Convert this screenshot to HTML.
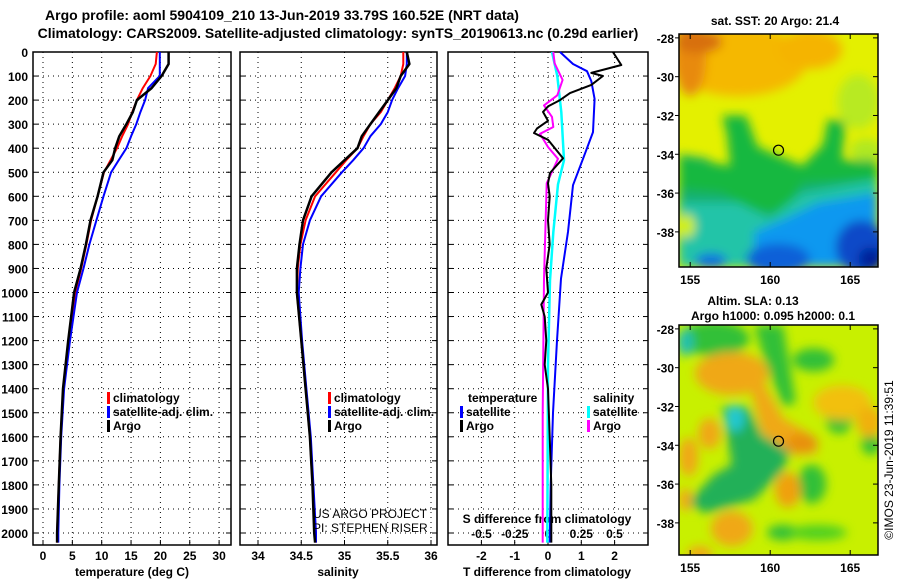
<!DOCTYPE html>
<html><head><meta charset="utf-8"><style>
html,body{margin:0;padding:0;background:#fff;}
svg{display:block;font-family:"Liberation Sans",sans-serif;}
.b{font-weight:bold;font-size:12px;}
.t{font-weight:bold;font-size:14px;}
</style></head><body>
<svg id="s" width="900" height="580" viewBox="0 0 900 580">
<defs>
<filter id="bl" x="-10%" y="-10%" width="120%" height="120%"><feGaussianBlur stdDeviation="5"/></filter>
<clipPath id="c1"><rect x="679" y="34" width="199" height="233"/></clipPath>
<clipPath id="c2"><rect x="679" y="325" width="199" height="230"/></clipPath>
</defs>
<text class="t" x="282" y="20" text-anchor="middle">Argo profile: aoml 5904109_210 13-Jun-2019 33.79S 160.52E (NRT data)</text>
<text class="t" x="338" y="38" text-anchor="middle">Climatology: CARS2009. Satellite-adjusted climatology: synTS_20190613.nc (0.29d earlier)</text>
<g id="g"></g>
</svg>
<script>
// ---- data ----
const depths=[0,50,100,150,200,250,300,350,400,450,500,600,700,800,900,1000,1200,1400,1600,1800,2000,2040];
const argoT=[21.4,21.4,20.2,18.5,16.0,15.3,14.2,13.0,12.3,11.8,10.3,9.3,8.1,7.3,6.4,5.3,4.3,3.4,3.0,2.7,2.4,2.4];
const climT=[19.4,19.2,18.3,17.0,16.0,15.2,14.5,13.5,12.6,11.5,10.4,9.3,8.2,7.4,6.5,5.5,4.4,3.5,3.0,2.7,2.4,2.4];
const satT=[19.9,19.9,19.9,17.9,17.4,16.6,15.9,15.0,14.2,12.9,11.6,10.3,9.1,7.9,6.9,5.8,4.6,3.6,3.1,2.8,2.6,2.6];
const argoS=[35.72,35.75,35.65,35.6,35.5,35.4,35.3,35.2,35.15,35.0,34.85,34.62,34.52,34.48,34.45,34.45,34.5,34.55,34.6,34.63,34.65,34.66];
const climS=[35.68,35.68,35.65,35.58,35.5,35.42,35.3,35.22,35.15,35.02,34.9,34.66,34.55,34.49,34.46,34.45,34.5,34.55,34.6,34.63,34.67,34.67];
const satS=[35.72,35.72,35.7,35.62,35.55,35.5,35.42,35.3,35.22,35.1,34.97,34.73,34.6,34.52,34.49,34.47,34.51,34.56,34.61,34.64,34.67,34.67];
const argoTdDepth=[0,54,87,100,137,171,200,226,249,286,318,337,365,442,503,546,600,700,800,900,1000,1050,1100,1200,1300,1400,1600,1800,2000,2040];
const argoTd=[1.95,2.2,1.3,1.65,1.3,0.66,0.36,0,-0.15,0,-0.33,-0.42,0,0.45,0.06,0,0.05,0,0.05,-0.05,0,-0.2,-0.1,-0.05,-0.1,0,0.05,0.1,0.1,0.1];
const satTdDepth=[0,50,80,121,195,333,444,554,748,942,1200,1500,1800,2040];
const satTd=[0.36,0.75,1.17,1.3,1.4,1.35,1.05,0.75,0.6,0.39,0.27,0.15,0.08,0.05];
const argoSdDepth=[0,47,116,180,222,270,312,340,395,444,546,942,1500,2040];
const argoSd=[0.04,0.05,0.11,0.07,-0.03,0.03,0.04,-0.06,0,0.075,-0.01,-0.03,-0.04,-0.04];
const satSdDepth=[0,100,250,450,550,750,950,1300,2040];
const satSd=[0.03,0.07,0.1,0.12,0.075,0.04,0.015,0.0,-0.005];
const depthTicks=[0,100,200,300,400,500,600,700,800,900,1000,1100,1200,1300,1400,1500,1600,1700,1800,1900,2000];
const tTicks=[0,5,10,15,20,25,30];
const sTicks=[34,34.5,35,35.5,36];
const sTickLabels=["34","34.5","35","35.5","36"];
const tdTicks=[-2,-1,0,1,2];
const sdTicks=[-0.5,-0.25,0,0.25,0.5];
const sdTickLabels=["-0.5","-0.25","0","0.25","0.5"];
const lonTicks=[155,160,165];
const latTicks=[-28,-30,-32,-34,-36,-38];
const floatLon=160.52, floatLat=-33.79;

// ---- helpers ----
const NS="http://www.w3.org/2000/svg";
const G=document.getElementById('g');
function mk(tag,attrs,parent){const e=document.createElementNS(NS,tag);for(const k in attrs)e.setAttribute(k,attrs[k]);(parent||G).appendChild(e);return e;}
function txt(x,y,s,cls,anchor,name){const e=mk('text',{x:x,y:y,'text-anchor':anchor||'middle'});if(cls)e.setAttribute('class',cls);e.textContent=s;


return e;}
const yD=d=>52+d*0.2405;
const P1={l:33,r:231}, P2={l:240,r:437}, P3={l:448,r:648};
const xT=v=>43+v*5.87;
const xS=v=>258+(v-34)*86.5;
const xTd=v=>548+v*33.3;
const xSd=v=>548+v*133;
const TOP=52,BOT=545;

function panel(P,name){
  const r=mk('rect',{x:P.l,y:TOP,width:P.r-P.l,height:BOT-TOP,fill:'none',stroke:'#000','stroke-width':1.5});
  
  
  depthTicks.forEach(d=>{mk('line',{x1:P.l,x2:P.r,y1:yD(d),y2:yD(d),stroke:'#000','stroke-width':1,'stroke-dasharray':'1,4'});
    mk('line',{x1:P.l,x2:P.l+5,y1:yD(d),y2:yD(d),stroke:'#000'});mk('line',{x1:P.r-5,x2:P.r,y1:yD(d),y2:yD(d),stroke:'#000'});});
}
function vgrid(ticks,fx){ticks.forEach(v=>{const x=fx(v);mk('line',{x1:x,x2:x,y1:TOP,y2:BOT,stroke:'#000','stroke-dasharray':'1,4'});mk('line',{x1:x,x2:x,y1:BOT-5,y2:BOT,stroke:'#000'});});}
function line(ds,vs,fx,color,w,name){
  let p='';ds.forEach((d,i)=>{p+=(i?'L':'M')+fx(vs[i]).toFixed(1)+','+yD(d).toFixed(1);});
  const e=mk('path',{d:p,fill:'none',stroke:color,'stroke-width':w,'stroke-linejoin':'round'});
  
  
}

// panel 1
panel(P1,'temperature-panel');vgrid(tTicks,xT);
depthTicks.forEach(d=>txt(28,yD(d)+5,String(d),'b','end','depth-tick-label'));
tTicks.forEach(v=>txt(xT(v),560,String(v),'b','middle','temperature-tick-label'));
txt(132,576,'temperature (deg C)','b','middle','temperature-axis-title');
line(depths,climT,xT,'#f00',2,'climatology-temperature-line');
line(depths,satT,xT,'#00f',2,'satellite-temperature-line');
line(depths,argoT,xT,'#000',2.5,'argo-temperature-line');

// panel 2
panel(P2,'salinity-panel');vgrid(sTicks,xS);
sTicks.forEach((v,i)=>txt(xS(v),560,sTickLabels[i],'b','middle','salinity-tick-label'));
txt(338,576,'salinity','b','middle','salinity-axis-title');
line(depths,climS,xS,'#f00',2,'climatology-salinity-line');
line(depths,satS,xS,'#00f',2,'satellite-salinity-line');
line(depths,argoS,xS,'#000',2.5,'argo-salinity-line');

// panel 3
panel(P3,'difference-panel');vgrid(tdTicks,xTd);
tdTicks.forEach(v=>txt(xTd(v),560,String(v),'b','middle','t-difference-tick-label'));
sdTicks.forEach((v,i)=>txt(xSd(v),538,sdTickLabels[i],'b','middle','s-difference-tick-label'));
txt(547,576,'T difference from climatology','b','middle','t-difference-axis-title');
txt(547,523,'S difference from climatology','b','middle','s-difference-axis-title');
line(satTdDepth,satTd,xTd,'#00f',2,'satellite-t-difference-line');
line(satSdDepth,satSd,xSd,'#0ff',2.5,'satellite-s-difference-line');
line(argoSdDepth,argoSd,xSd,'#f0f',2,'argo-s-difference-line');
line(argoTdDepth,argoTd,xTd,'#000',2,'argo-t-difference-line');

// legends
function leg(x,y,color,label,name){const r=mk('rect',{x:x,y:y-10,width:3,height:12,fill:color});


txt(x+6,y,label,'b','start',name);}
leg(107,402,'#f00','climatology','legend-climatology');
leg(107,416,'#00f','satellite-adj. clim.','legend-satellite-adj');
leg(107,430,'#000','Argo','legend-argo');
leg(328,402,'#f00','climatology','legend-climatology-s');
leg(328,416,'#00f','satellite-adj. clim.','legend-satellite-adj-s');
leg(328,430,'#000','Argo','legend-argo-s');
txt(468,402,'temperature','b','start','legend-temperature-heading');
leg(460,416,'#00f','satellite','legend-t-satellite');
leg(460,430,'#000','Argo','legend-t-argo');
txt(593,402,'salinity','b','start','legend-salinity-heading');
leg(587,416,'#0ff','satellite','legend-s-satellite');
leg(587,430,'#f0f','Argo','legend-s-argo');
txt(313,518,'US ARGO PROJECT','', 'start','credit-project').setAttribute('style','font-size:12px');
txt(313,532,'PI: STEPHEN RISER','', 'start','credit-pi').setAttribute('style','font-size:12px');

// maps
const lonX=l=>679+(l-154.3)*16;
function mapFrame(top,h,clip,name,title1,title2,base,shapes){
  const lat=la=>top+(-27.8-la)*19.4;
  const g=mk('g',{'clip-path':'url(#'+clip+')'});
  
  
  mk('rect',{x:679,y:top,width:199,height:h,fill:base},g);
  const gb=mk('g',{filter:'url(#bl)'},g);
  shapes.forEach(s=>{
    if(s[0]==='e')mk('ellipse',{cx:lonX(s[1]),cy:lat(s[2]),rx:s[3]*16,ry:s[4]*19.4,fill:s[5]},gb);
    else mk('polygon',{points:s[1].map(p=>lonX(p[0]).toFixed(1)+','+lat(p[1]).toFixed(1)).join(' '),fill:s[2]},gb);
  });
  mk('rect',{x:679,y:top,width:199,height:h,fill:'none',stroke:'#000','stroke-width':1.5});
  const c=mk('circle',{cx:lonX(floatLon),cy:lat(floatLat),r:5,fill:'none',stroke:'#000','stroke-width':1.2});
  
  
  latTicks.forEach(v=>{const y=lat(v);mk('line',{x1:675,x2:679,y1:y,y2:y,stroke:'#000'});mk('line',{x1:873,x2:878,y1:y,y2:y,stroke:'#000'});txt(674,y+5,String(v),'b','end','latitude-tick-label');});
  lonTicks.forEach(v=>{const x=lonX(v);mk('line',{x1:x,x2:x,y1:top+h-5,y2:top+h,stroke:'#000'});mk('line',{x1:x,x2:x,y1:top,y2:top+5,stroke:'#000'});txt(x,top+h+17,String(v),'b','middle','longitude-tick-label');});
  if(title2){txt(753,top-20,title1,'b','middle',name+'-title');txt(773,top-5,title2,'b','middle',name+'-subtitle');}
  else txt(775,top-9,title1,'b','middle',name+'-title');
}
mapFrame(34,233,'c1','sst-map','sat. SST: 20 Argo: 21.4',null,'#e4f000',[
 ['e',158,-29.2,4.3,1.8,'#f5b800'],['e',162.5,-28.6,2,1,'#f5b400'],['e',155,-29,1,2,'#e88a10'],['e',155.5,-28.2,1.5,0.6,'#d87010'],
 ['e',165.5,-31.3,1.3,1.4,'#b8ea20'],['e',166,-33.8,1,0.6,'#b0e820'],
 ['p',[[154.3,-34],[156,-34.2],[157,-34.8],[159,-34.3],[161,-34.6],[163,-35],[166.7,-34.5],[166.7,-39.8],[154.3,-39.8]],'#14b070'],
 ['p',[[157,-32],[158.5,-32],[159.2,-33.6],[160.6,-34.1],[162,-34.6],[163.3,-33.5],[163.6,-32.2],[164.7,-32.3],[164.5,-34.3],[166.7,-34.3],[166.7,-35.3],[162,-35.5],[161,-37],[159,-37],[157,-36],[154.3,-35.8],[154.3,-34.1],[157.5,-34.6],[157.3,-33]],'#12b840'],
 ['p',[[154.3,-36.5],[158,-36.5],[160,-37.3],[162,-36],[166.7,-35.3],[166.7,-39.8],[154.3,-39.8]],'#20c4a8'],
 ['p',[[159,-38],[161,-37.3],[163,-36.5],[166.7,-36],[166.7,-39.8],[159,-39.8]],'#0c98f0'],
 ['e',160.5,-39.4,2,0.8,'#1060d8'],['e',165.7,-38.8,1.6,1.4,'#1048c8'],['e',166.3,-39.4,0.8,0.6,'#00209a'],
 ['e',154.8,-37.7,0.5,0.6,'#d0f000'],['e',156.3,-39.5,1,0.4,'#1070e0']
]);
mapFrame(325,230,'c2','sla-map','Altim. SLA: 0.13','Argo h1000: 0.095 h2000: 0.1','#c8f000',[
 ['e',156.5,-28.5,2.2,0.9,'#30c038'],['p',[[159,-27.8],[160.8,-27.8],[161.6,-31.8],[160.8,-32],[159.6,-29.5]],'#30c038'],
 ['e',162.7,-29.6,1.3,0.6,'#30c038'],['e',164.3,-32.7,0.8,0.7,'#30c038'],['e',166.3,-33.9,0.6,0.6,'#30c038'],
 ['p',[[157,-32],[158.6,-32],[159.5,-33.5],[161.3,-34.2],[160.8,-35.3],[159,-36.8],[156,-37.5],[154.8,-37],[156.5,-35.5],[157.6,-35]],'#22b058'],
 ['e',162.6,-36,0.9,1,'#30c038'],['e',160.8,-38.5,1,0.4,'#30c038'],['e',163,-38.5,1.8,0.4,'#50d020'],
 ['e',157.6,-30.3,2.3,1.1,'#f0a818'],['p',[[159.6,-30.8],[160.8,-32.6],[162.5,-33.4],[163,-34.4],[161.5,-34.5],[159.5,-33.4],[158.8,-31.2]],'#f0a818'],
 ['e',162,-33.9,1,0.5,'#e89010'],['e',156.2,-33.4,0.7,0.8,'#f0a818'],['e',154.9,-34.6,0.6,1,'#f0a818'],
 ['e',161.1,-36.3,0.8,0.9,'#f0a010'],['e',157.6,-38.3,1.3,0.9,'#f0a818'],['e',164.5,-31.8,1.8,0.9,'#f2c010'],['e',166.2,-32.8,0.8,0.8,'#f0b010'],
 ['e',155.6,-39.6,0.8,0.4,'#f0a818'],['e',154.7,-36.8,0.4,0.6,'#f0a818'],
 ['e',157.8,-32.6,0.6,0.7,'#20c8d0'],['e',154.7,-28.7,0.5,0.7,'#20c0b0']
]);
const cr=txt(0,0,'©IMOS 23-Jun-2019 11:39:51','','middle','timestamp-credit');
cr.setAttribute('transform','translate(893,460) rotate(-90)');
cr.setAttribute('style','font-size:12px');
</script>
</body></html>
